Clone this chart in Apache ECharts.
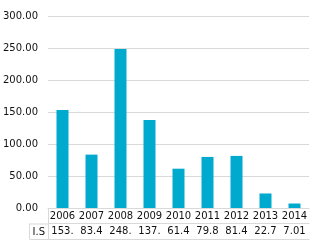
<!DOCTYPE html>
<html>
<head>
<meta charset="utf-8">
<script src="https://cdn.jsdelivr.net/npm/echarts@6/dist/echarts.min.js"></script>
<style>html,body{margin:0;padding:0;background:#fff}#c{width:313px;height:244px}</style>
</head>
<body>
<div id="c"></div>
<script>
var years = ['2006','2007','2008','2009','2010','2011','2012','2013','2014'];
var seriesName = 'I.S';
var values = [153.2, 83.4, 248.3, 137.4, 61.4, 79.8, 81.4, 22.7, 7.01];
var yTicks = {min: 0, max: 300, interval: 50};

var FONT = 'DejaVu Sans';
var FS = 10;
var TXT = '#111';
var LINE = '#d9d9d9';
var gridLeft = 48, gridTop = 16, gridBottom = 36, gridRight = 4;
var H = 244;
var axisY = H - gridBottom;
var rowH = 15.5;

var tableLabels = values.map(function (v) { return String(v).slice(0, 4); });

var chart = echarts.init(document.getElementById('c'), null, {renderer: 'canvas'});
chart.setOption({
  animation: false,
  textStyle: {fontFamily: FONT},
  grid: {left: gridLeft, right: gridRight, top: gridTop, bottom: gridBottom, containLabel: false},
  xAxis: [
    {
      type: 'category', data: years, position: 'bottom',
      axisLine: {show: true, lineStyle: {color: LINE}},
      axisTick: {show: false},
      axisLabel: {margin: 3, fontSize: FS, color: TXT, fontFamily: FONT, interval: 0}
    },
    {
      type: 'category', data: tableLabels, position: 'bottom', offset: rowH,
      axisLine: {show: true, lineStyle: {color: LINE}},
      axisTick: {show: false},
      axisLabel: {margin: 3, fontSize: FS, color: TXT, fontFamily: FONT, interval: 0}
    },
    {
      type: 'category', data: years, position: 'bottom', offset: rowH * 2,
      axisLine: {show: true, lineStyle: {color: LINE}},
      axisTick: {show: false},
      axisLabel: {show: false}
    }
  ],
  yAxis: {
    type: 'value', min: yTicks.min, max: yTicks.max, interval: yTicks.interval,
    axisLine: {show: false}, axisTick: {show: false},
    axisLabel: {margin: 10, fontSize: FS, color: TXT, fontFamily: FONT,
      formatter: function (v) { return v.toFixed(2); }},
    splitLine: {lineStyle: {color: LINE, width: 1}}
  },
  series: [{
    name: seriesName, type: 'bar', xAxisIndex: 0, data: values,
    barWidth: 12, itemStyle: {color: '#00A9CE'}
  }],
  graphic: [
    {type: 'line', shape: {x1: gridLeft + 0.5, y1: axisY, x2: gridLeft + 0.5, y2: axisY + rowH * 2}, style: {stroke: LINE, lineWidth: 1}},
    {type: 'line', shape: {x1: 29.5, y1: axisY + rowH, x2: 29.5, y2: axisY + rowH * 2}, style: {stroke: LINE, lineWidth: 1}},
    {type: 'line', shape: {x1: 29.5, y1: axisY + rowH + 0.5, x2: gridLeft, y2: axisY + rowH + 0.5}, style: {stroke: LINE, lineWidth: 1}},
    {type: 'line', shape: {x1: 29.5, y1: axisY + rowH * 2 + 0.5, x2: gridLeft, y2: axisY + rowH * 2 + 0.5}, style: {stroke: LINE, lineWidth: 1}},
    {type: 'text', x: (29.5 + gridLeft) / 2, y: axisY + rowH * 1.5 + 1, style: {text: seriesName, fill: TXT, font: FS + 'px "' + FONT + '"', align: 'center', verticalAlign: 'middle'}}
  ]
});
</script>
</body>
</html>
